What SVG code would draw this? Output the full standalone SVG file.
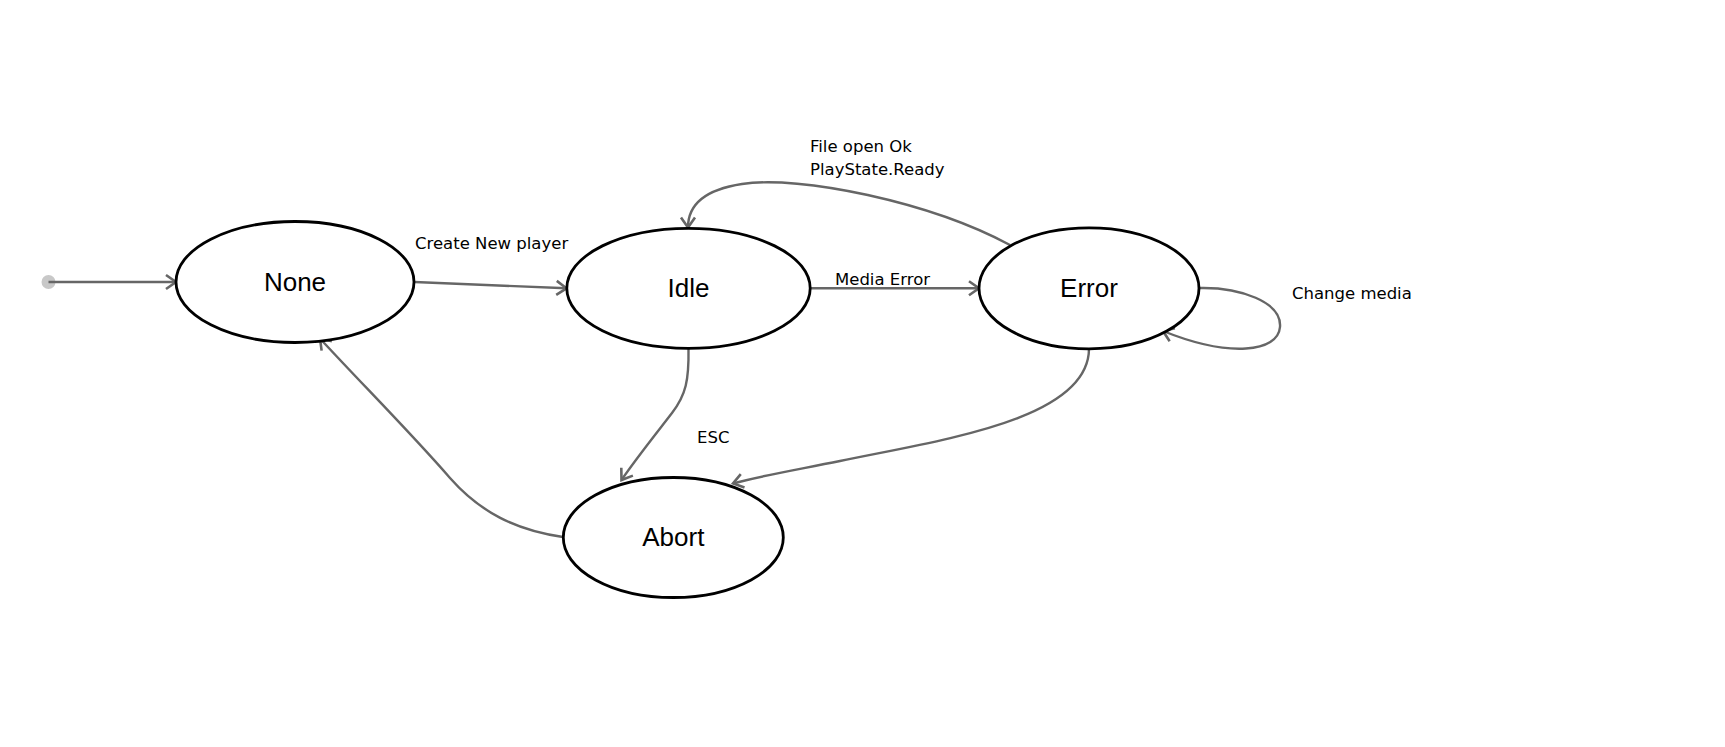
<svg xmlns="http://www.w3.org/2000/svg" width="1725" height="747" viewBox="0 0 1725 747">
<style>
.node ellipse{fill:#fff;stroke:#000;stroke-width:2.8}
.node text{font-family:"Liberation Sans",Arial,sans-serif;font-size:26px;fill:#000;text-anchor:middle}
.edge{fill:none;stroke:#666;stroke-width:2.4;marker-end:url(#arr)}
.lbl{font-family:"DejaVu Sans","Noto Sans",sans-serif;font-size:16.5px;fill:#000}
</style>
<defs>
<marker id="arr" markerUnits="userSpaceOnUse" markerWidth="18" markerHeight="18" viewBox="0 0 18 18" refX="14" refY="9" orient="auto">
<path d="M4,2 L14,9 L4,16" fill="none" stroke="#666" stroke-width="2.6"/>
</marker>
</defs>
<rect width="1725" height="747" fill="#fff"/>
<g id="connectors">
<circle cx="48.5" cy="282" r="7" fill="#c8c8c8"/>
<path class="edge" d="M48.5 282 L176 282"/>
<path class="edge" d="M414.5 282 L566.5 288.3"/>
<path class="edge" d="M810 288.3 L979 288.3"/>
<path class="edge" d="M1010 245 C 930 202, 800 175, 742 184 C 702 190, 688 206, 688 227.5"/>
<path class="edge" d="M1199 288 C 1240 287, 1282 302, 1280 327 C 1278 352, 1230 358, 1163 331"/>
<path class="edge" d="M688.5 348.5 C 689 380, 686 395, 672 413 C 655 435, 635 460, 621.5 480"/>
<path class="edge" d="M1089 348.5 C 1089 420, 940 440, 840 461 C 790 471, 760 476, 733 483.5"/>
<path class="edge" d="M563 537 C 515 530, 480 512, 450 478 C 410 432, 360 382, 320 338.5"/>
<text class="lbl" x="415" y="249">Create New player</text>
<text class="lbl" x="810" y="152">File open Ok</text>
<text class="lbl" x="810" y="175">PlayState.Ready</text>
<text class="lbl" x="835" y="285">Media Error</text>
<text class="lbl" x="1292" y="299">Change media</text>
<text class="lbl" x="697" y="443">ESC</text>
</g>
<g id="node-none" class="node">
<ellipse cx="295" cy="282" rx="119" ry="60.5"/>
<text x="295" y="291">None</text>
</g>
<g id="node-idle" class="node">
<ellipse cx="688.5" cy="288.3" rx="121.7" ry="60"/>
<text x="688.5" y="297">Idle</text>
</g>
<g id="node-error" class="node">
<ellipse cx="1089" cy="288.3" rx="110" ry="60.5"/>
<text x="1089" y="297">Error</text>
</g>
<g id="node-abort" class="node">
<ellipse cx="673.3" cy="537.5" rx="110" ry="60"/>
<text x="673.3" y="546">Abort</text>
</g>
</svg>
